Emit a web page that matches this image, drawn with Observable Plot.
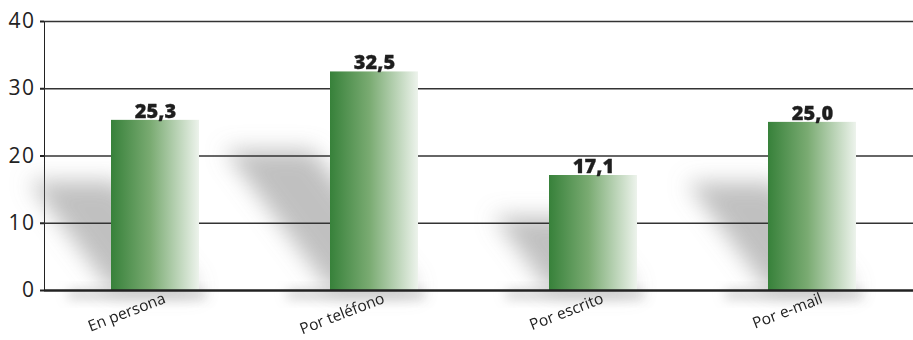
<!DOCTYPE html>
<html>
<head>
<meta charset="utf-8">
<script src="https://cdn.jsdelivr.net/npm/d3@7"></script>
<script src="https://cdn.jsdelivr.net/npm/@observablehq/plot@0.6"></script>
<style>
  html, body { margin: 0; padding: 0; background: #fff; }
  svg { display: block; }
</style>
</head>
<body>
<div id="chart"></div>
<script>
const categories = ["En persona", "Por teléfono", "Por escrito", "Por e-mail"];
const values = [25.3, 32.5, 17.1, 25.0];
const yTicks = [0, 10, 20, 30, 40];
const gridValues = [10, 20, 30, 40];

const data = categories.map((c, i) => ({cat: c, value: values[i], label: values[i].toFixed(1).replace(".", ",")}));
const shadowRatio = 0.64;

const chart = Plot.plot({
  width: 913,
  height: 340,
  marginLeft: 44,
  marginRight: 0,
  marginTop: 21,
  marginBottom: 50,
  style: {background: "#fff", fontFamily: "'Open Sans', sans-serif", color: "#222"},
  x: {domain: categories, range: [44, 922], paddingInner: 0.6, paddingOuter: 0.3, axis: null},
  y: {domain: [0, 40], ticks: yTicks, tickSize: 4, tickPadding: 5, line: true, label: null, tickFormat: d => String(d)},
  marks: [
    // cast shadows (decorative)
    Plot.barY(data, {x: "cat", y: d => d.value * shadowRatio, fill: "#8c8c8c", fillOpacity: 0.55}),
    Plot.barY(data, {x: "cat", y1: 0, y2: -1.3, fill: "#a0a0a0", fillOpacity: 0.5, dx: -18}),
    Plot.ruleY(gridValues, {stroke: "#333", strokeWidth: 1.5}),
    Plot.barY(data, {x: "cat", y: "value", fill: "#3a823a"}),
    Plot.ruleY([0], {stroke: "#222", strokeWidth: 2.5}),
    Plot.text(data, {x: "cat", y: "value", text: "label", dy: -9, fontSize: 20, fontWeight: 900, fill: "#1e1e1e", stroke: "#1e1e1e", strokeWidth: 0.3, fontFamily: "'Open Sans', sans-serif"}),
    Plot.text(data, {x: "cat", frameAnchor: "bottom", text: "cat", rotate: -21, textAnchor: "end", dx: 11, dy: 12, fontSize: 15.5, fill: "#222"})
  ]
});

document.getElementById("chart").appendChild(chart);

const svg = d3.select(chart);
const defs = svg.insert("defs", ":first-child");
const grad = defs.append("linearGradient").attr("id", "barGrad").attr("x1", 0).attr("x2", 1).attr("y1", 0).attr("y2", 0);
grad.append("stop").attr("offset", "0%").attr("stop-color", "#37813a");
grad.append("stop").attr("offset", "45%").attr("stop-color", "#7aab72");
grad.append("stop").attr("offset", "100%").attr("stop-color", "#edf3ec");
const blur = defs.append("filter").attr("id", "blurShadow").attr("x", "-50%").attr("y", "-50%").attr("width", "200%").attr("height", "200%");
blur.append("feGaussianBlur").attr("stdDeviation", 11);
const blur2 = defs.append("filter").attr("id", "blurBase").attr("x", "-50%").attr("y", "-100%").attr("width", "200%").attr("height", "300%");
blur2.append("feGaussianBlur").attr("stdDeviation", 6);

const barGroups = chart.querySelectorAll('g[aria-label="bar"]');
// shadows
d3.select(barGroups[0]).attr("filter", "url(#blurShadow)")
  .selectAll("rect")
  .style("transform-box", "fill-box")
  .style("transform-origin", "0 100%")
  .style("transform", "skewX(37deg)");
d3.select(barGroups[1]).attr("filter", "url(#blurBase)")
  .selectAll("rect").each(function() {
    const r = d3.select(this);
    const x = +r.attr("x"), w = +r.attr("width");
    r.attr("x", x - 25).attr("width", w + 50);
  });
d3.select(barGroups[2]).selectAll("rect").attr("fill", "url(#barGrad)");
// y axis font
svg.selectAll('g[aria-label="y-axis tick label"], g[aria-label="y-axis"]').attr("font-size", 21).attr("letter-spacing", "1.5px").attr("fill", "#222");
svg.selectAll('g[aria-label="y-axis tick"], g[aria-label="y-axis"] path').attr("stroke", "#222").attr("stroke-width", 2);
</script>
</body>
</html>
